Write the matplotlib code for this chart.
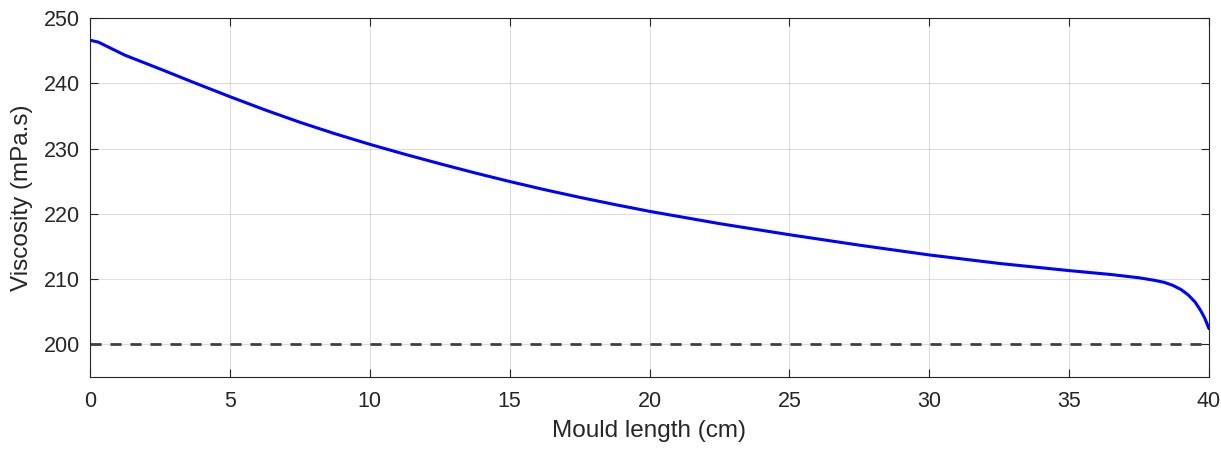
import matplotlib
matplotlib.use("Agg")
import matplotlib.pyplot as plt

plt.rcParams['font.family'] = ['Liberation Sans', 'DejaVu Sans']

mould_length = [0, 0.3, 1.25, 2.5, 3.75, 5, 6.25, 7.5, 8.75, 10, 11.25, 12.5, 13.75,
                15, 16.25, 17.5, 18.75, 20, 22.5, 25, 27.5, 30, 32.5, 35, 36.5,
                37.5, 38.0, 38.4, 38.7, 39.0, 39.25, 39.5, 39.7, 39.85, 40]
viscosity = [246.6, 246.3, 244.3, 242.2, 240.05, 237.95, 235.93, 234.03, 232.28, 230.65,
             229.13, 227.68, 226.28, 224.95, 223.7, 222.53, 221.43, 220.38, 218.5,
             216.8, 215.2, 213.7, 212.4, 211.3, 210.7, 210.2, 209.85, 209.5,
             209.05, 208.4, 207.6, 206.5, 205.2, 204.0, 202.4]
reference_x = [0, 40]
reference_y = [200, 200]

x_ticks = [0, 5, 10, 15, 20, 25, 30, 35, 40]
y_ticks = [200, 210, 220, 230, 240, 250]

text_color = (0.15, 0.15, 0.15)

fig = plt.figure(figsize=(12.21, 4.5), dpi=100)
ax = fig.add_axes([90/1221, 1-377/450, (1209-90)/1221, (377-18)/450])

ax.plot(reference_x, reference_y, color=(0.25, 0.25, 0.25), linewidth=2.0,
        linestyle=(0, (4, 3.2)))
ax.plot(mould_length, viscosity, color=(0, 0, 1), linewidth=2.2,
        solid_joinstyle='round', solid_capstyle='round')

ax.set_xlim(0, 40)
ax.set_ylim(195, 250)
ax.set_xticks(x_ticks)
ax.set_yticks(y_ticks)
ax.grid(True, color=text_color, alpha=0.15, linewidth=0.8)
ax.set_axisbelow(True)
ax.tick_params(direction='in', top=True, right=True, length=6, width=0.8,
               labelsize=15.5, colors=text_color)
ax.tick_params(axis='x', pad=10)
ax.tick_params(axis='y', pad=7)
for sp in ax.spines.values():
    sp.set_color(text_color)
    sp.set_linewidth(0.8)
ax.set_xlabel('Mould length (cm)', fontsize=17.5, color=text_color, labelpad=6)
ax.set_ylabel('Viscosity (mPa.s)', fontsize=17.5, color=text_color, labelpad=8)

fig.savefig('out.png', dpi=100)
